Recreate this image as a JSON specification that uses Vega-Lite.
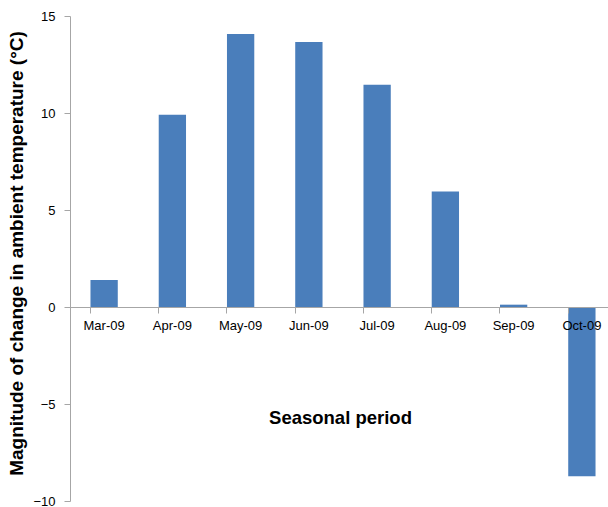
{
  "$schema": "https://vega.github.io/schema/vega-lite/v6.json",
  "width": 538,
  "height": 485,
  "autosize": "none",
  "padding": {"left": 70, "top": 16, "right": 0, "bottom": 6},
  "background": "white",
  "config": {"view": {"stroke": null}, "font": "Liberation Sans"},
  "data": {"values": [
    {"period": "Mar-09", "value": 1.39},
    {"period": "Apr-09", "value": 9.91},
    {"period": "May-09", "value": 14.07},
    {"period": "Jun-09", "value": 13.66},
    {"period": "Jul-09", "value": 11.45},
    {"period": "Aug-09", "value": 5.96},
    {"period": "Sep-09", "value": 0.12},
    {"period": "Oct-09", "value": -8.72}
  ]},
  "mark": {"type": "bar", "color": "#4a7ebb"},
  "encoding": {
    "x": {
      "field": "period", "type": "nominal", "sort": null,
      "scale": {"range": [0, 546], "paddingInner": 0.6, "paddingOuter": 0.3},
      "axis": {
        "title": "Seasonal period",
        "titleFontSize": 18.5, "titleFontWeight": "bold", "titleColor": "black",
        "titleY": 110, "titleX": 270, "titleBaseline": "middle",
        "labelAngle": 0, "labelFontSize": 13, "labelColor": "black",
        "labelPadding": 6,
        "tickSize": 6, "tickColor": "#a6a6a6", "domainColor": "#a6a6a6",
        "bandPosition": 0,
        "offset": -194,
        "zindex": 1
      }
    },
    "y": {
      "field": "value", "type": "quantitative",
      "scale": {"domain": [-10, 15], "nice": false, "zero": false},
      "axis": {
        "title": "Magnitude of change in ambient temperature (°C)",
        "titleFontSize": 19, "titleFontWeight": "bold", "titleColor": "black",
        "titlePadding": 6, "titleY": 237,
        "values": [-10, -5, 0, 5, 10, 15],
        "grid": false,
        "labelFontSize": 13, "labelColor": "black", "labelPadding": 9,
        "tickSize": 6, "tickColor": "#a6a6a6", "domainColor": "#a6a6a6",
        "labelExpr": "replace(datum.label, '-', '\u2212')"
      }
    }
  }
}
